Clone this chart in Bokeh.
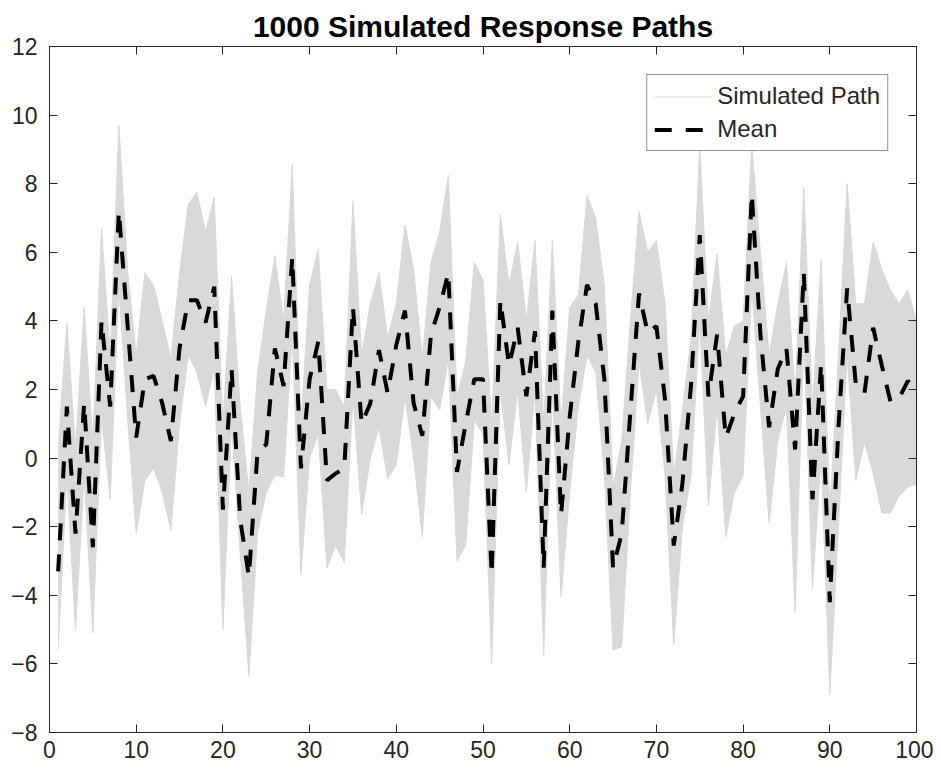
from bokeh.plotting import figure
from bokeh.models import LinearAxis, Range1d, FixedTicker, Legend, LegendItem
from bokeh.embed import file_html
from bokeh.resources import INLINE

# ---- data ----
steps = list(range(1, 101))

mean_path = [
    -3.3, 1.5, -2.2, 1.6, -2.6, 4.0, 1.5, 7.2, 3.9, 0.6,
    2.3, 2.4, 1.6, 0.5, 3.2, 4.6, 4.6, 3.95, 5.0, -1.5,
    2.6, -1.8, -3.45, 0.2, 0.4, 3.2, 2.1, 5.85, -0.3, 2.3,
    3.4, -0.65, -0.45, -0.3, 4.4, 1.0, 1.6, 3.15, 1.9, 3.3,
    4.3, 1.6, 0.65, 3.6, 4.4, 5.4, -0.4, 1.0, 2.3, 2.3,
    -3.4, 4.6, 2.7, 3.8, 1.8, 3.7, -3.2, 4.3, -1.65, 1.2,
    3.4, 5.05, 4.5, 2.3, -3.2, -2.2, 1.35, 4.8, 3.65, 3.85,
    1.7, -2.55, -0.75, 2.15, 6.5, 1.8, 3.6, 0.6, 1.3, 1.8,
    7.7, 3.6, 0.9, 2.6, 3.2, 0.25, 5.4, -1.2, 2.75, -4.2,
    0.9, 4.95, 2.15, 1.9, 3.8, 2.7, 1.65, 1.75, 2.25, 2.0,
]

paths_upper = [
    0.3, 3.95, 0.3, 4.4, 0.5, 6.7, 3.0, 9.7, 5.5, 3.0,
    5.4, 5.05, 4.0, 2.9, 5.4, 7.4, 7.75, 6.6, 7.6, 1.0,
    5.3, 1.5, -1.0, 2.5, 4.3, 5.9, 4.0, 8.55, 1.0, 5.05,
    6.1, 2.0, 2.0, 1.5, 7.5, 3.0, 4.5, 5.4, 3.5, 4.5,
    6.8, 5.5, 2.9, 5.7, 6.6, 8.25, 1.8, 2.8, 5.7, 5.2,
    1.0, 7.1, 5.05, 6.3, 4.0, 6.35, 1.0, 6.35, 1.0, 4.4,
    4.75, 7.65, 7.0, 5.0, -0.85, 0.5, 4.0, 7.2, 6.0, 6.35,
    4.5, -0.5, 1.4, 3.5, 9.1, 4.0, 5.95, 3.0, 3.85, 4.0,
    9.15, 6.0, 3.0, 4.5, 5.7, 1.8, 7.9, 1.5, 5.8, -1.5,
    3.0, 8.0, 4.5, 4.5, 6.3, 5.5, 4.9, 4.5, 4.9, 4.0,
]

paths_lower = [
    -5.6, -0.5, -5.0, -0.5, -5.1, 1.2, -1.2, 5.0, 1.2, -2.2,
    -0.65, -0.3, -1.0, -2.1, 1.0, 3.0, 2.5, 1.5, 2.6, -5.0,
    1.0, -2.8, -6.35, -2.15, -1.0, -0.5, -0.55, 3.6, -3.4, 0.0,
    0.7, -3.2, -2.55, -3.05, 1.8, -1.65, 0.0, 0.9, -0.6, -0.2,
    1.8, 0.0, -2.3, 1.8, 1.4, 2.9, -3.0, -2.55, 1.1, 0.7,
    -6.0, 2.0, -0.2, 2.0, -1.0, 2.0, -5.75, 2.0, -4.05, -1.0,
    1.5, 3.0, 2.5, -0.5, -5.6, -5.5, -1.0, 2.8, 1.0, 2.0,
    -0.5, -5.45, -2.0, -0.5, 4.0, -1.4, 1.5, -2.3, -1.0, -0.5,
    5.0, 1.5, -1.9, 0.5, 1.5, -4.5, 3.5, -3.8, 0.0, -6.9,
    -2.0, 3.0, -0.65, 0.45, -0.45, -1.6, -1.6, -1.1, -0.85, -0.75,
]

x_ticks = list(range(0, 101, 10))
y_ticks = list(range(-8, 13, 2))

FONT = "Liberation Sans"
AX = "#262626"
GRAY = "#d9d9d9"

p = figure(width=933, height=768, output_backend="svg", toolbar_location=None,
           x_range=Range1d(0, 100), y_range=Range1d(-8, 12),
           min_border_left=49, min_border_right=17, min_border_top=46,
           min_border_bottom=36, title="1000 Simulated Response Paths")
p.title.text_font = FONT
p.title.text_font_size = "30px"
p.title.text_font_style = "bold"
p.title.text_color = "#000000"
p.title.align = "center"
p.title.standoff = 7
p.xgrid.visible = False
p.ygrid.visible = False
p.outline_line_color = AX
p.background_fill_color = "white"
p.border_fill_color = "white"


def style_axis(ax, ticks, show_labels=True):
    ax.ticker = FixedTicker(ticks=ticks)
    ax.major_tick_in = 8
    ax.major_tick_out = 0
    ax.minor_tick_line_color = None
    ax.axis_line_color = AX
    ax.major_tick_line_color = AX
    ax.major_label_text_font = FONT
    if show_labels:
        ax.major_label_text_color = AX
        ax.major_label_text_font_size = "23px"
    else:
        ax.major_label_text_color = None
        ax.major_label_text_font_size = "1px"
        ax.major_label_standoff = 0


style_axis(p.xaxis[0], x_ticks)
p.xaxis[0].major_label_standoff = 8
style_axis(p.yaxis[0], y_ticks)
p.yaxis[0].major_label_standoff = 12

top_ax = LinearAxis()
style_axis(top_ax, x_ticks, show_labels=False)
p.add_layout(top_ax, "above")
right_ax = LinearAxis()
style_axis(right_ax, y_ticks, show_labels=False)
p.add_layout(right_ax, "right")

# simulated paths band (envelope of the 1000 paths)
p.varea(x=steps, y1=paths_lower, y2=paths_upper, fill_color=GRAY)
r_up = p.line(steps, paths_upper, line_color=GRAY, line_width=1)
p.line(steps, paths_lower, line_color=GRAY, line_width=1)

r_mean = p.line(steps, mean_path, line_color="black", line_width=4,
                line_dash="17 14")

legend = Legend(items=[LegendItem(label="Simulated Path", renderers=[r_up]),
                       LegendItem(label="Mean", renderers=[r_mean])],
                location="top_right")
legend.margin = 28
legend.padding = 7
legend.spacing = 5
legend.glyph_width = 57
legend.glyph_height = 27
legend.label_height = 27
legend.label_standoff = 6
legend.label_text_font = FONT
legend.label_text_font_size = "24px"
legend.label_text_color = AX
legend.border_line_color = AX
legend.border_line_width = 1
legend.background_fill_color = "white"
legend.background_fill_alpha = 1.0
p.add_layout(legend)

open("out.html", "w").write(file_html(p, INLINE))
